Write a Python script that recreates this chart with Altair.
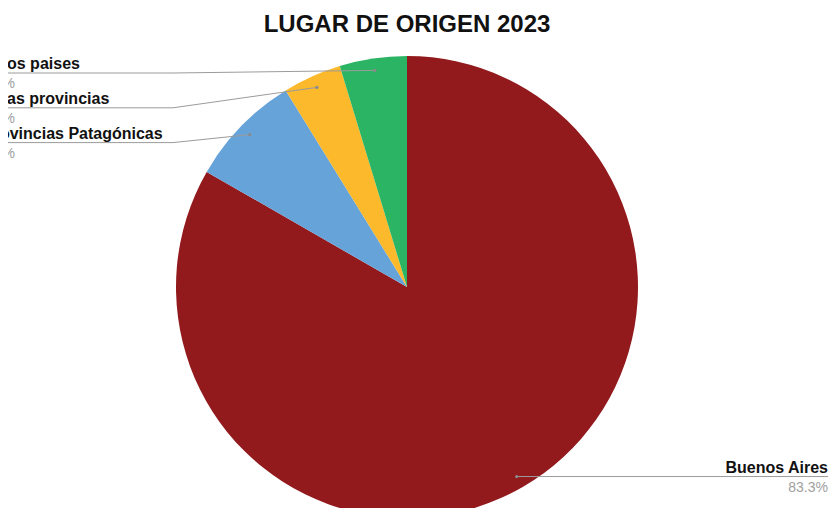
import altair as alt
import pandas as pd

# ---- data ----
title_text = "LUGAR DE ORIGEN 2023"
categories = ["Buenos Aires", "Provincias Patagónicas", "Otras provincias", "Otros paises"]
shares = [83.3, 7.9, 4.1, 4.7]
slice_colors = ["#921a1d", "#66a3d9", "#fcb92c", "#2bb463"]

df = pd.DataFrame({
    "categoria": categories,
    "valor": shares,
    "orden": list(range(len(categories))),
})

# ---- layout constants (pixels, view coords) ----
CX, CY, R = 399, 239, 231
DOT_R = 219
LEFT_TOP, LEFT_STEP = 25, 34.8
LEFT_ELBOW, LEFT_END, LEFT_TEXT = 165, -8, -25
RIGHT_END = 820
FONT = "Liberation Sans"

base = (
    alt.Chart(df)
    .transform_joinaggregate(total="sum(valor)")
    .transform_window(cum="sum(valor)", sort=[alt.SortField("orden")], frame=[None, 0])
    .transform_calculate(
        mid="2*PI*(datum.cum - datum.valor/2)/datum.total",
        pct="format(datum.valor/datum.total, '.1%')",
    )
    .transform_calculate(
        px=f"{CX} + {DOT_R}*sin(datum.mid)",
        py=f"{CY} - {DOT_R}*cos(datum.mid)",
    )
    .transform_calculate(lado=f"datum.px < {CX} ? 'izq' : 'der'")
    .transform_window(rk="row_number()", groupby=["lado"], sort=[alt.SortField("py")])
    .transform_calculate(
        line_y=f"datum.lado == 'izq' ? {LEFT_TOP} + (datum.rk - 1)*{LEFT_STEP} : datum.py",
        elbow_x=f"datum.lado == 'izq' ? {LEFT_ELBOW} : datum.px",
        end_x=f"datum.lado == 'izq' ? {LEFT_END} : {RIGHT_END}",
        text_x=f"datum.lado == 'izq' ? {LEFT_TEXT} : {RIGHT_END}",
    )
)

pie = alt.Chart(df).mark_arc(radius=R, stroke=None).encode(
    theta=alt.Theta("valor:Q", stack=True),
    color=alt.Color("categoria:N", scale=alt.Scale(domain=categories, range=slice_colors), legend=None),
    order=alt.Order("orden:Q"),
    x=alt.value(CX),
    y=alt.value(CY),
)

def px_x(f):
    return alt.X(f, scale=None, axis=None)

def px_y(f):
    return alt.Y(f, scale=None, axis=None)

rule_h = base.mark_rule(color="#9b9b9b", strokeWidth=1).encode(
    x=px_x("end_x:Q"), y=px_y("line_y:Q"), x2="elbow_x:Q", y2="line_y:Q"
)
rule_d = base.mark_rule(color="#9b9b9b", strokeWidth=1).encode(
    x=px_x("elbow_x:Q"), y=px_y("line_y:Q"), x2="px:Q", y2="py:Q"
)
dots = base.mark_circle(size=10, color="#8a8a8a", opacity=1).encode(
    x=px_x("px:Q"), y=px_y("py:Q")
)

def labels(side, align):
    b = base.transform_filter(f"datum.lado == '{side}'")
    name = b.mark_text(
        align=align, baseline="alphabetic", dy=-4, fontSize=16, fontWeight="bold",
        font=FONT, color="#111111"
    ).encode(x=px_x("text_x:Q"), y=px_y("line_y:Q"), text="categoria:N")
    pct = b.mark_text(
        align=align, baseline="alphabetic", dy=15, fontSize=14,
        font=FONT, color="#a0a0a0"
    ).encode(x=px_x("text_x:Q"), y=px_y("line_y:Q"), text="pct:N")
    return name + pct

title = alt.Chart(pd.DataFrame({"t": [title_text]})).mark_text(
    align="center", baseline="alphabetic", fontSize=24, fontWeight="bold",
    font=FONT, color="#111111"
).encode(x=alt.value(CX), y=alt.value(-16), text="t:N")

chart = (
    alt.layer(pie, rule_h, rule_d, dots, labels("izq", "left"), labels("der", "right"), title)
    .properties(
        width=821,
        height=460,
        autosize=alt.AutoSizeParams(type="none"),
        padding={"left": 0, "top": 40, "right": 0, "bottom": 0},
    )
    .configure_view(stroke=None)
)

chart.save("out.html", embed_options={"renderer": "svg", "actions": False})
